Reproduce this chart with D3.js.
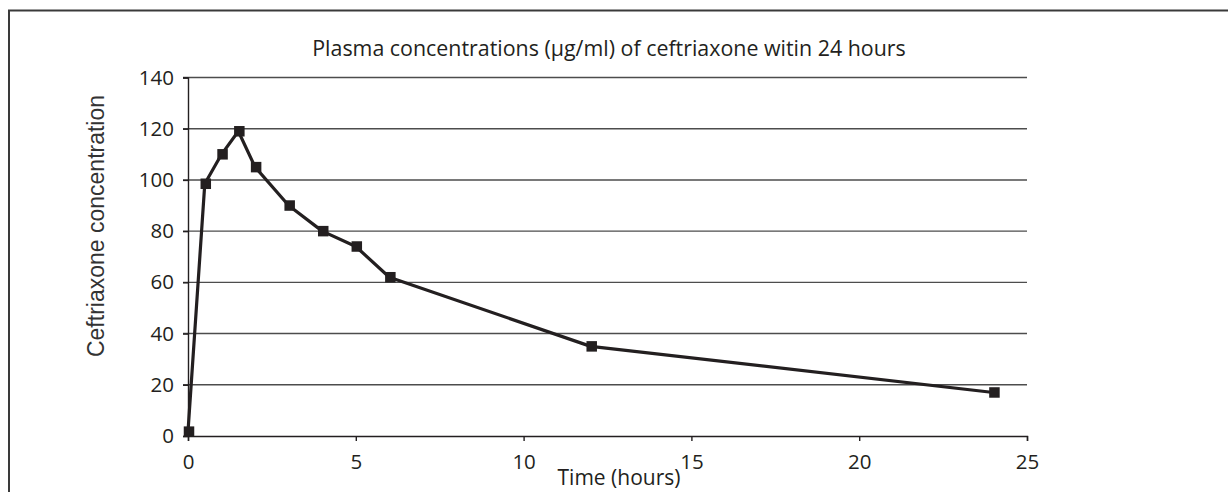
<!DOCTYPE html>
<html>
<head>
<meta charset="utf-8">
<script src="https://cdn.jsdelivr.net/npm/d3@7"></script>
<style>
  html, body { margin: 0; padding: 0; background: #fff; }
  svg { display: block; }
</style>
</head>
<body>
<svg id="chart" width="1228" height="492"></svg>
<script>
// Data
const hours = [0, 0.5, 1, 1.5, 2, 3, 4, 5, 6, 12, 24];
const concentrations = [1.7, 98.5, 110, 119, 105, 90, 80, 74, 62, 35, 17];
const xTicks = [0, 5, 10, 15, 20, 25];
const yTicks = [0, 20, 40, 60, 80, 100, 120, 140];
const titleText = "Plasma concentrations (µg/ml) of ceftriaxone witin 24 hours";
const xTitle = "Time (hours)";
const yTitle = "Ceftriaxone concentration";

(function () {
const svg = d3.select("#chart");
const W = 1228, H = 492;
const pLeft = 188, pRight = 1027, pTop = 77.5, pBottom = 436;

const x = d3.scaleLinear().domain([0, 25]).range([pLeft, pRight]);
const y = d3.scaleLinear().domain([0, 140]).range([pBottom, pTop]);

const ink = "#231f20";
const gill = "'Open Sans', 'Lato', sans-serif";

// Frame (top and left only)
svg.append("path")
  .attr("d", `M9,${H} L9,10.5 L${W},10.5`)
  .attr("fill", "none")
  .attr("stroke", "#3a3a3a")
  .attr("stroke-width", 2);

// Gridlines (horizontal)
svg.append("g")
  .selectAll("line")
  .data(yTicks.filter(d => d !== 0))
  .join("line")
  .attr("x1", pLeft - 5)
  .attr("x2", pRight)
  .attr("y1", d => y(d))
  .attr("y2", d => y(d))
  .attr("stroke", "#4d4d4d")
  .attr("stroke-width", 1.4);

// Y axis
const yAxis = svg.append("g")
  .attr("transform", `translate(${pLeft},0)`)
  .call(d3.axisLeft(y).tickValues(yTicks).tickSize(5).tickPadding(9).tickFormat(d3.format("d")));
yAxis.select(".domain").attr("stroke", ink).attr("stroke-width", 1.4);
yAxis.selectAll(".tick line").attr("stroke", ink).attr("stroke-width", 1.4);
yAxis.selectAll("text")
  .attr("font-family", gill)
  .attr("font-size", 20.5)
  .attr("fill", ink);

// X axis
const xAxis = svg.append("g")
  .attr("transform", `translate(0,${pBottom})`)
  .call(d3.axisBottom(x).tickValues(xTicks).tickSize(5).tickPadding(13).tickFormat(d3.format("d")));
xAxis.select(".domain").attr("stroke", ink).attr("stroke-width", 1.4);
xAxis.selectAll(".tick line").attr("stroke", ink).attr("stroke-width", 1.4);
xAxis.selectAll("text")
  .attr("font-family", gill)
  .attr("font-size", 20.5)
  .attr("fill", ink);

// Line
const pts = hours.map((h, i) => [h, concentrations[i]]);
svg.append("path")
  .datum(pts)
  .attr("fill", "none")
  .attr("stroke", ink)
  .attr("stroke-width", 3.2)
  .attr("stroke-linejoin", "round")
  .attr("d", d3.line().x(d => x(d[0])).y(d => y(d[1])));

// Markers
const ms = 10.5;
svg.append("g")
  .selectAll("rect")
  .data(pts)
  .join("rect")
  .attr("x", d => x(d[0]) - ms / 2 + 1)
  .attr("y", d => y(d[1]) - ms / 2)
  .attr("width", ms)
  .attr("height", ms)
  .attr("fill", ink);

// Title
svg.append("text")
  .attr("x", 609)
  .attr("y", 56)
  .attr("text-anchor", "middle")
  .attr("font-family", gill)
  .attr("font-size", 21.4)
  .attr("fill", ink)
  .text(titleText);

// X title
svg.append("text")
  .attr("x", 619)
  .attr("y", 485)
  .attr("text-anchor", "middle")
  .attr("font-family", gill)
  .attr("font-size", 21)
  .attr("fill", ink)
  .text(xTitle);

// Y title
svg.append("text")
  .attr("transform", `translate(104,226) rotate(-90)`)
  .attr("text-anchor", "middle")
  .attr("font-family", "'Liberation Sans', Arial, sans-serif")
  .attr("font-size", 23)
  .attr("fill", "#333")
  .text(yTitle);
})();
</script>
</body>
</html>
